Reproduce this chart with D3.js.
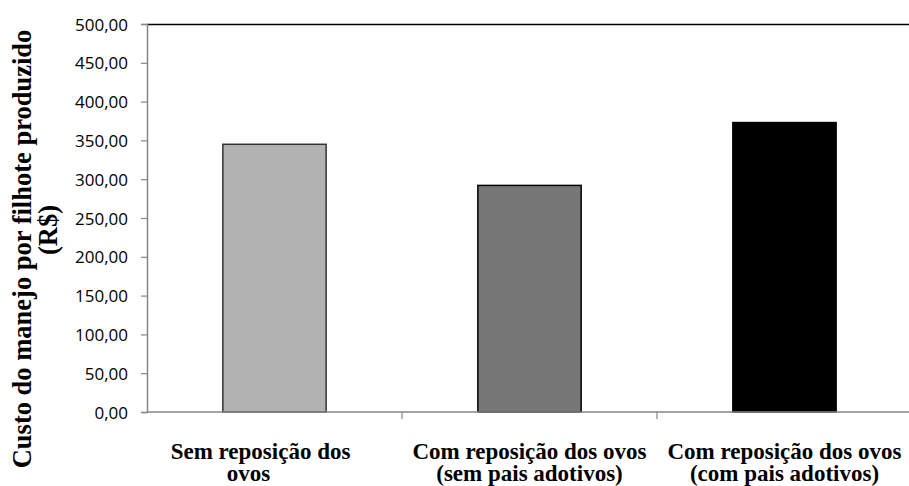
<!DOCTYPE html>
<html>
<head>
<meta charset="utf-8">
<script src="https://cdn.jsdelivr.net/npm/d3@7"></script>
<style>
  body { margin: 0; background: #fff; }
  svg { display: block; }
  .tick text { font-family: 'Open Sans', sans-serif; font-size: 17px; fill: #000; }
  .cat { font-family: 'Liberation Serif', 'Times New Roman', serif; font-weight: bold; font-size: 23px; fill: #000; }
  .ytitle { font-family: 'Liberation Serif', 'Times New Roman', serif; font-weight: bold; font-size: 26.5px; fill: #000; }
</style>
</head>
<body>
<script>
'use strict'

const categories = [
  ['Sem reposição dos', 'ovos'],
  ['Com reposição dos ovos', '(sem pais adotivos)'],
  ['Com reposição dos ovos', '(com  pais adotivos)']
]
const values = [345, 292, 373]
const colors = ['#b2b2b2', '#777777', '#000000']
const yTicks = [0, 50, 100, 150, 200, 250, 300, 350, 400, 450, 500]
const yTitle = ['Custo do manejo por filhote produzido', '(R$)']

const width = 909
const height = 486
const plotLeft = 147
const plotTop = 24
const plotBottom = 412
const step = 255

const fmt = v => d3.format('.2f')(v).replace('.', ',')

const svg = d3.select('body').append('svg')
  .attr('width', width)
  .attr('height', height)

const x = d3.scaleBand()
  .domain(d3.range(categories.length))
  .range([plotLeft, plotLeft + step * categories.length])
  .padding(0)

const y = d3.scaleLinear()
  .domain([0, 500])
  .range([plotBottom, plotTop])

// top border of plot area
svg.append('line')
  .attr('x1', plotLeft).attr('x2', width)
  .attr('y1', y(500) + 0.5).attr('y2', y(500) + 0.5)
  .attr('stroke', '#000')
  .attr('stroke-width', 1.5)

const barW = x.bandwidth() * 0.405
svg.selectAll('rect.bar')
  .data(values)
  .enter()
  .append('rect')
  .attr('class', 'bar')
  .attr('x', (d, i) => x(i) + (x.bandwidth() - barW) / 2)
  .attr('y', d => y(d))
  .attr('width', barW)
  .attr('height', d => y(0) - y(d))
  .attr('fill', (d, i) => colors[i])
  .attr('stroke', (d, i) => i === 0 ? '#333' : '#000')
  .attr('stroke-width', 1.5)

// y axis
const yAxis = svg.append('g')
  .attr('transform', 'translate(' + plotLeft + ',0)')
  .call(d3.axisLeft(y).tickValues(yTicks).tickFormat(fmt).tickSize(6).tickPadding(13))
yAxis.select('.domain').attr('stroke', '#868686').attr('stroke-width', 1.5)
yAxis.selectAll('.tick line').attr('stroke', '#868686').attr('stroke-width', 1.2)
yAxis.selectAll('.tick text').attr('dy', '0.36em')

// x axis
const xAxis = svg.append('g')
  .attr('transform', 'translate(0,' + plotBottom + ')')
xAxis.append('line')
  .attr('x1', plotLeft).attr('x2', width)
  .attr('stroke', '#868686').attr('stroke-width', 1.5)
xAxis.selectAll('line.tk')
  .data(d3.range(1, categories.length))
  .enter()
  .append('line')
  .attr('class', 'tk')
  .attr('x1', i => x(i)).attr('x2', i => x(i))
  .attr('y1', 0).attr('y2', 7)
  .attr('stroke', '#868686').attr('stroke-width', 1.2)

const labels = svg.selectAll('text.cat')
  .data(categories)
  .enter()
  .append('text')
  .attr('class', 'cat')
  .attr('text-anchor', 'middle')
  .attr('transform', (d, i) => 'translate(' + (x(i) + x.bandwidth() / 2) + ',459)')
labels.each(function (d, i) {
  // the first label sits a bit left of its bar in the original (wrapped text)
  const shift = i === 0 ? [-14, -26] : [0, 0]
  d3.select(this).selectAll('tspan')
    .data(d)
    .enter()
    .append('tspan')
    .attr('x', (t, j) => shift[j])
    .attr('y', (t, j) => j * 22)
    .text(t => t)
})

// y title
const yt = svg.append('text')
  .attr('class', 'ytitle')
  .attr('text-anchor', 'middle')
  .attr('transform', 'rotate(-90)')
yt.append('tspan').attr('x', -249).attr('y', 31).text(yTitle[0])
yt.append('tspan').attr('x', -230).attr('y', 57).text(yTitle[1])
</script>
</body>
</html>
